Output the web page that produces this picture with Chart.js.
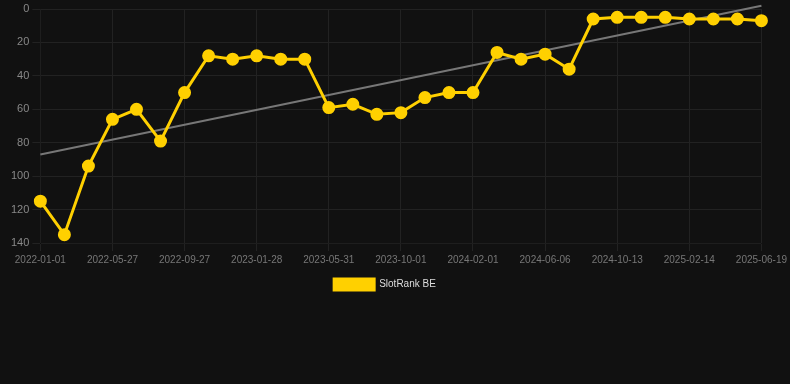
<!DOCTYPE html>
<html>
<head>
<meta charset="utf-8">
<script src="https://cdn.jsdelivr.net/npm/chart.js@4.4.1/dist/chart.umd.min.js"></script>
<style>
  html, body { margin: 0; padding: 0; background: #111111; }
  #wrap { width: 790px; height: 300px; }
</style>
</head>
<body>
<div id="wrap"><canvas id="rankChart"></canvas></div>
<script>
// dates on the x axis (only every third one is shown)
const dates = [
  '2022-01-01', '2022-02-18', '2022-04-07', '2022-05-27', '2022-07-07', '2022-08-17',
  '2022-09-27', '2022-11-07', '2022-12-18', '2023-01-28', '2023-03-10', '2023-04-20',
  '2023-05-31', '2023-07-11', '2023-08-21', '2023-10-01', '2023-11-11', '2023-12-22',
  '2024-02-01', '2024-03-13', '2024-04-25', '2024-06-06', '2024-07-19', '2024-08-31',
  '2024-10-13', '2024-11-23', '2025-01-03', '2025-02-14', '2025-03-27', '2025-05-08',
  '2025-06-19'
];

// SlotRank BE
const ranks = [
  115, 135, 94, 66, 60, 79, 50, 28, 30, 28, 30, 30,
  59, 57, 63, 62, 53, 50, 50, 26, 30, 27, 36,
  6, 5, 5, 5, 6, 6, 6, 7
];

// trend line, first and last value
const trendEnds = [87, -2];

const yTicks = [0, 20, 40, 60, 80, 100, 120, 140];

const trendData = dates.map((d, i) => i === 0 ? trendEnds[0] : (i === dates.length - 1 ? trendEnds[1] : null));

const ctx = document.getElementById('rankChart').getContext('2d');
new Chart(ctx, {
  type: 'line',
  data: {
    labels: dates,
    datasets: [
      {
        label: 'SlotRank BE',
        data: ranks,
        borderColor: '#ffd000',
        backgroundColor: '#ffd000',
        borderWidth: 3,
        pointRadius: 5,
        pointHoverRadius: 6,
        tension: 0
      },
      {
        label: 'trend',
        data: trendData,
        spanGaps: true,
        borderColor: '#777777',
        borderWidth: 2,
        pointRadius: 0,
        clip: false
      }
    ]
  },
  options: {
    responsive: true,
    maintainAspectRatio: false,
    animation: false,
    layout: { padding: { left: 8, right: 28, top: 0, bottom: 0 } },
    plugins: {
      legend: {
        position: 'bottom',
        labels: {
          color: '#dddddd',
          boxWidth: 40,
          boxHeight: 11,
          font: { family: 'Arial, "Liberation Sans", sans-serif', size: 10 },
          filter: (item) => item.text !== 'trend'
        }
      },
      tooltip: { enabled: false }
    },
    scales: {
      x: {
        grid: { color: '#222222' },
        ticks: {
          color: '#777777',
          autoSkip: false,
          maxRotation: 0,
          font: { family: 'Arial, "Liberation Sans", sans-serif', size: 10 },
          callback: function (val, i) { return i % 3 === 0 ? dates[i] : null; }
        }
      },
      y: {
        reverse: true,
        min: yTicks[0],
        max: yTicks[yTicks.length - 1],
        grid: { color: '#222222' },
        ticks: {
          stepSize: 20,
          color: '#888888',
          font: { family: 'Arial, "Liberation Sans", sans-serif', size: 11, lineHeight: 1 }
        }
      }
    }
  }
});
</script>
</body>
</html>
